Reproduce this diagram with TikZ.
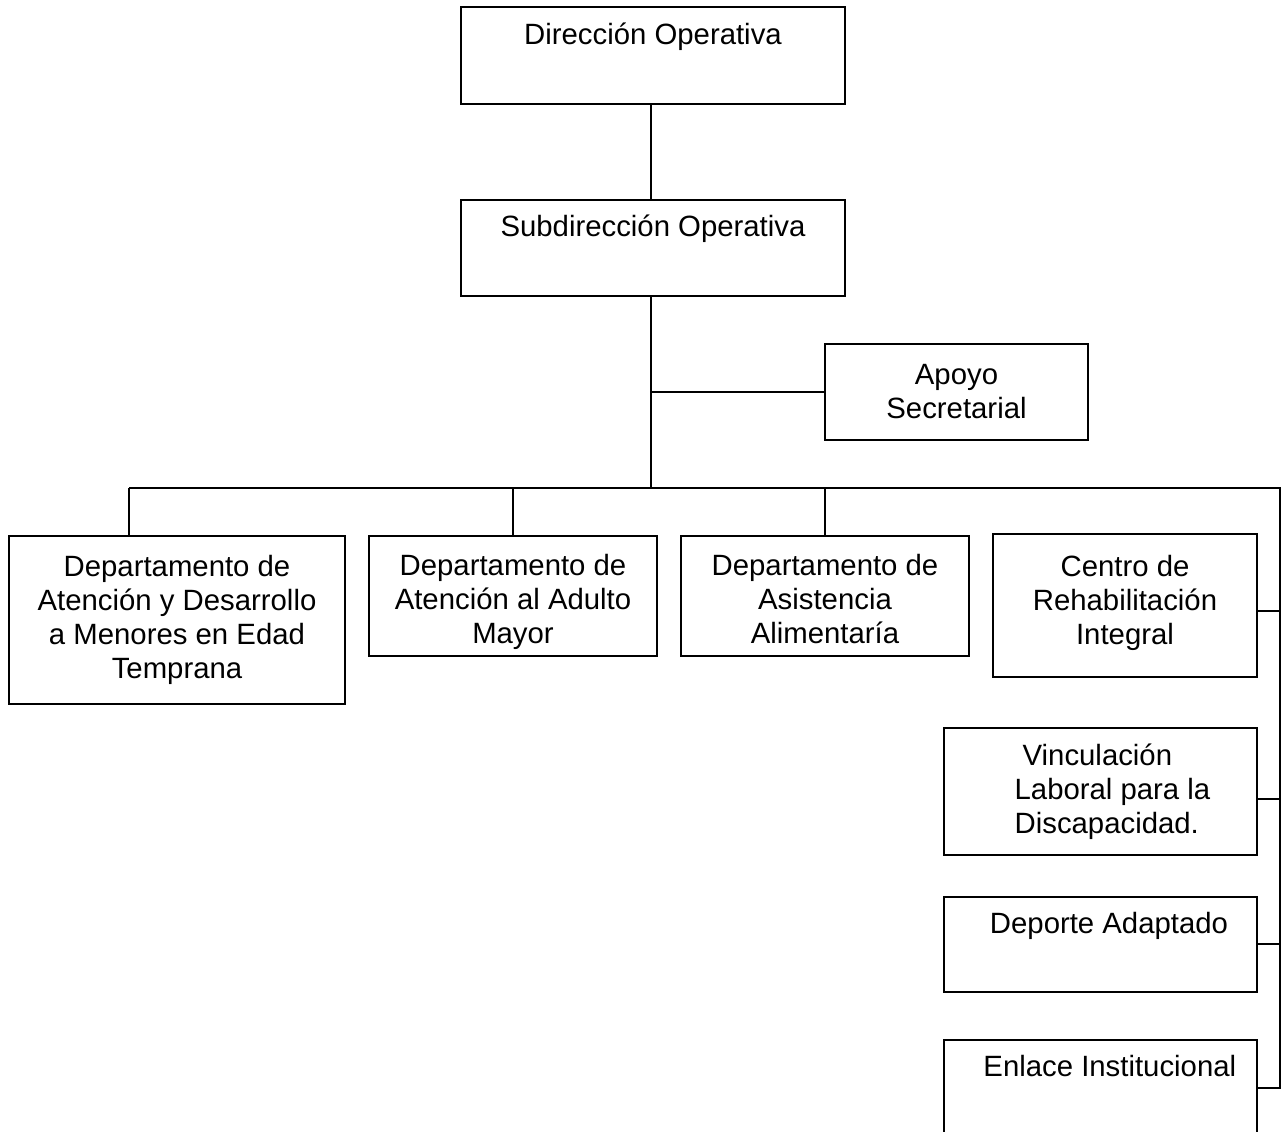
\documentclass[tikz,border=0pt]{standalone}
\usepackage{fontspec}
\setmainfont{Liberation Sans}
\begin{document}
\begin{tikzpicture}[x=0.75pt,y=-0.75pt,
  box/.style={draw=black,line width=1.3pt,fill=white,align=center,inner sep=2pt,
    font=\fontsize{22}{25.5}\selectfont},
  wire/.style={draw=black,line width=1.3pt}]
\clip (0,0) rectangle (1283,1132);
\fill[white] (0,0) rectangle (1283,1132);

% boxes
\node[box,minimum width=288pt,minimum height=72.75pt] (dir) at (653,55.5) {Dirección Operativa\\\strut};
\node[box,minimum width=288pt,minimum height=72pt] (sub) at (653,248) {Subdirección Operativa\\\strut};
\node[box,minimum width=197.25pt,minimum height=72pt] (apoyo) at (956.5,392) {Apoyo\\Secretarial};
\node[box,minimum width=252pt,minimum height=126pt] (d1) at (177,620) {Departamento de\\Atención y Desarrollo\\a Menores en Edad\\Temprana};
\node[box,minimum width=216pt,minimum height=90pt] (d2) at (513,596) {\mbox{}\\[-0.5pt]Departamento de\\Atención al Adulto\\Mayor};
\node[box,minimum width=216pt,minimum height=90pt] (d3) at (825,596) {\mbox{}\\[-5pt]Departamento de\\Asistencia\\Alimentaría};
\node[box,minimum width=198pt,minimum height=107.25pt] (d4) at (1125,605.5) {Centro de\\Rehabilitación\\Integral\\[-16.5pt]\mbox{}};
\node[box,align=left,minimum width=234.75pt,minimum height=95.25pt] (vinc) at (1100.5,791.5) {\hspace*{24pt}Vinculación\\\hspace*{18pt}Laboral para la\\\hspace*{18pt}Discapacidad.};
\node[box,minimum width=234.75pt,minimum height=71.25pt] (dep) at (1100.5,944.5) {\hspace*{12.75pt}Deporte Adaptado\\\strut};
\node[box,minimum width=234.75pt,minimum height=72pt] (enl) at (1100.5,1088) {\hspace*{14pt}Enlace Institucional\\\strut};

% junction coordinates
\coordinate (j1) at (651,392);
\coordinate (j2) at (651,488);
\coordinate (bl) at (129,488);
\coordinate (br) at (1280,488);

% connectors
\draw[wire] (dir.south -| j1) -- (sub.north -| j1);
\draw[wire] (sub.south -| j1) -- (j2);
\draw[wire] (j1) -- (apoyo.west);
\draw[wire] (bl) -- (br) -- (br |- enl.east) -- (enl.east);
\draw[wire] (bl) -- (bl |- d1.north);
\draw[wire] (d2.north |- bl) -- (d2.north);
\draw[wire] (d3.north |- bl) -- (d3.north);
\draw[wire] ([yshift=-4.1pt]d4.east) -- ([yshift=-4.1pt]d4.east -| br);
\draw[wire] ([yshift=-5.6pt]vinc.east) -- ([yshift=-5.6pt]vinc.east -| br);
\draw[wire] ([yshift=0.4pt]dep.east) -- ([yshift=0.4pt]dep.east -| br);
\end{tikzpicture}
\end{document}
